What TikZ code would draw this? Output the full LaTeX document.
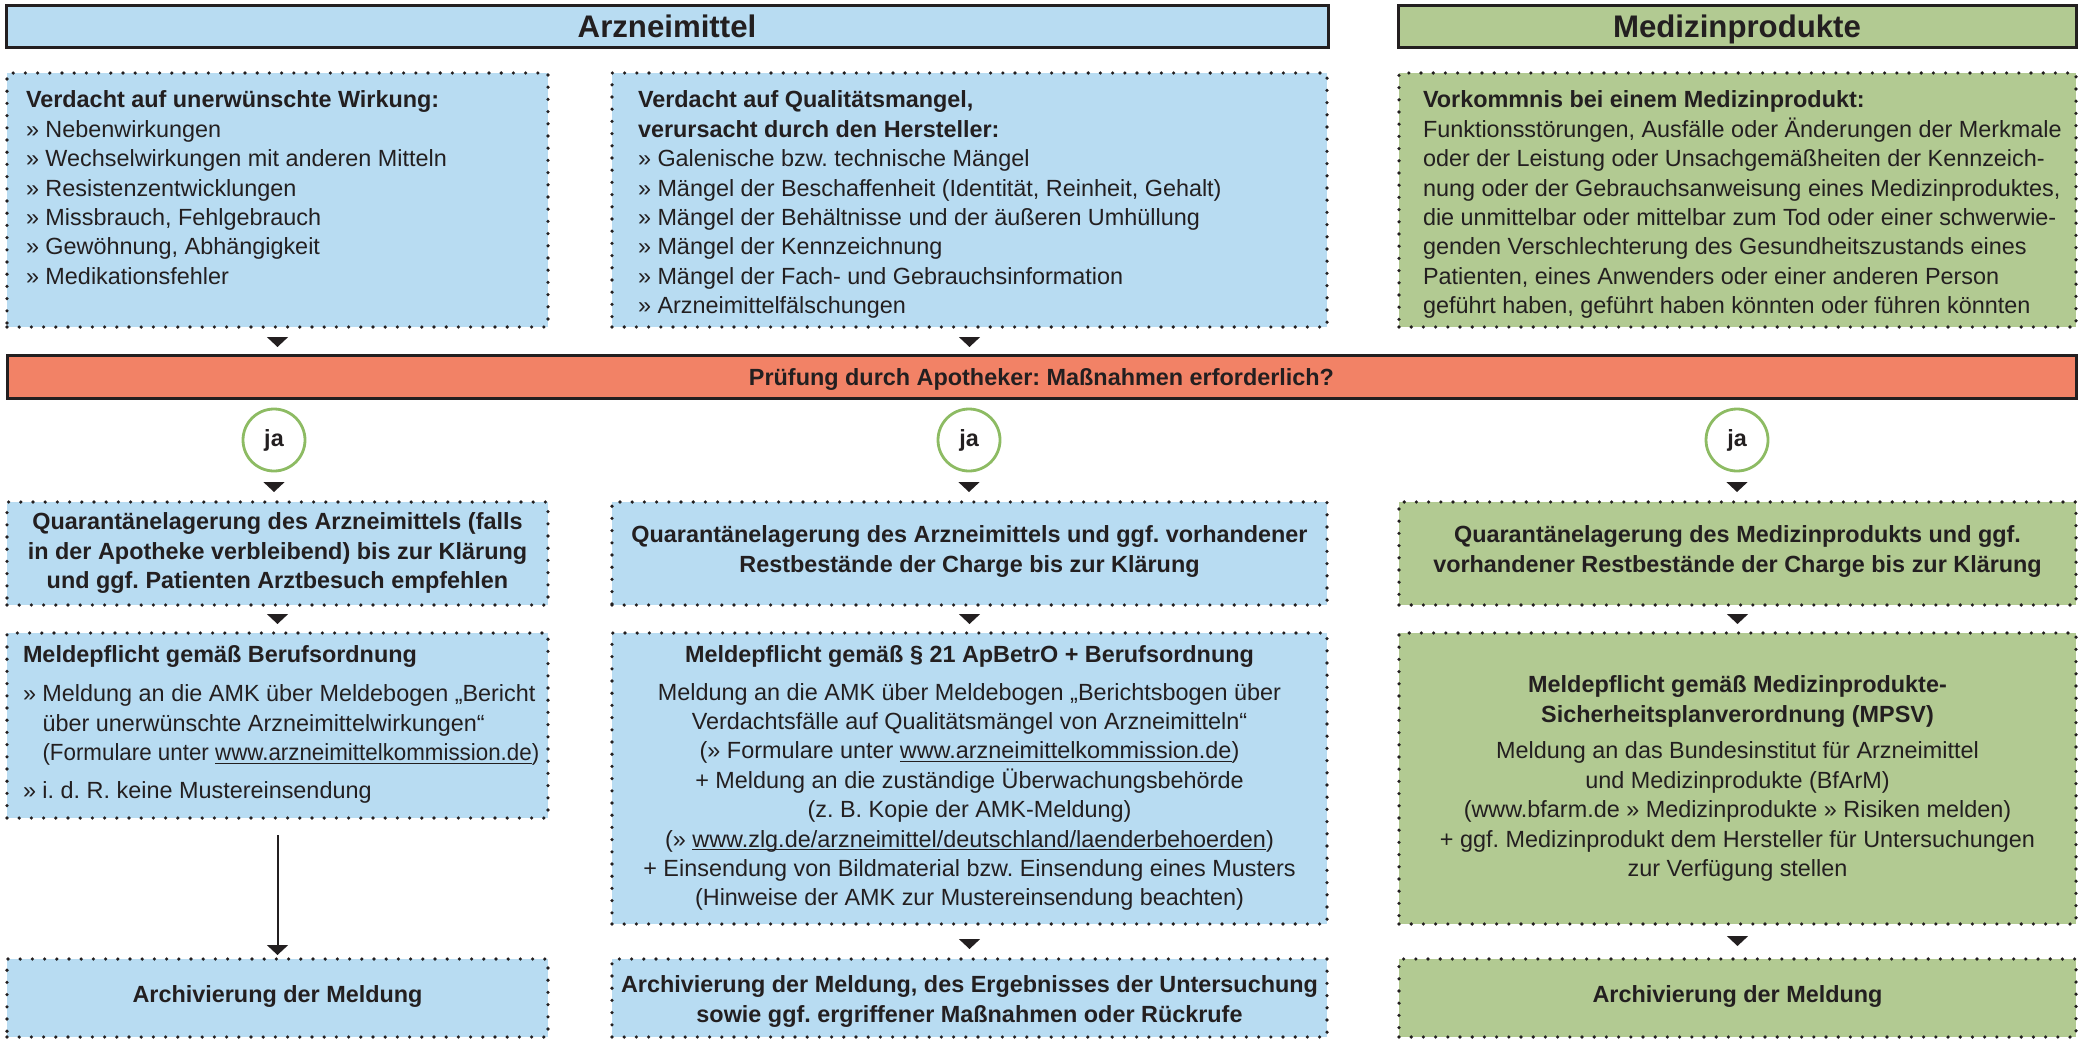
\documentclass[tikz,border=0pt]{standalone}
\usepackage{fontspec}
\usepackage{graphicx}
\setmainfont{Liberation Sans}
\usetikzlibrary{arrows.meta,fit}
\definecolor{ink}{HTML}{231F20}
\definecolor{amblue}{HTML}{B8DCF2}
\definecolor{mpgreen}{HTML}{B2CA92}
\definecolor{pruef}{HTML}{F28266}
\definecolor{jagreen}{HTML}{8DBB63}
\newcommand\myul[1]{\setbox0=\hbox{#1}\rlap{\rule[-1.6pt]{\wd0}{0.6pt}}\box0}
\newcommand\bodyfs{\fontsize{11.7pt}{14.7pt}\selectfont\frenchspacing}
\tikzset{
  hdr/.style={draw=ink, line width=1.5pt, inner sep=0pt, outer sep=0pt},
  dotbox/.style={draw=ink, line width=1.8pt, dash pattern=on 0pt off 6.1pt, line cap=round, inner sep=0pt, outer sep=0pt},
  ambox/.style={dotbox, fill=amblue},
  mpbox/.style={dotbox, fill=mpgreen},
  htxt/.style={inner sep=0pt, outer sep=0pt, text=ink, anchor=north, font=\fontsize{15.6pt}{18pt}\selectfont\bfseries},
  ctxt/.style={inner sep=0pt, outer sep=0pt, text=ink, align=center, anchor=north, font=\bodyfs},
  ltxt/.style={inner sep=0pt, outer sep=0pt, text=ink, align=left, anchor=north west, font=\bodyfs},
  jacirc/.style={circle, draw=jagreen, line width=1.4pt, fill=white, minimum size=31pt, inner sep=0pt, outer sep=0pt, text=ink, font=\fontsize{11.7pt}{14pt}\selectfont\bfseries},
  tri/.style={draw=ink, line width=0.8pt, -{Triangle[width=10.5pt,length=5pt]}},
  longarr/.style={draw=ink, line width=1pt, -{Triangle[width=10.5pt,length=5pt]}},
}
\begin{document}
\begin{tikzpicture}[x=0.5pt,y=-0.5pt]
\useasboundingbox (0,0) rectangle (2086,1039);
% headers
\node[hdr, fill=amblue, fit={(6,5) (1328,47)}] (h1) {};
\node[hdr, fill=mpgreen, fit={(1398,5) (2076,47)}] (h2) {};
\node[htxt] (h1t) at ([yshift=-5pt]h1.north) {Arzneimittel};
\node[htxt] (h2t) at ([yshift=-5pt]h2.north) {Medizinprodukte};
% row 1
\node[ambox, fit={(7,73) (548,327)}] (v1) {};
\node[ambox, fit={(612,73) (1327,327)}] (v2) {};
\node[mpbox, fit={(1399,73) (2076,327)}] (v3) {};
\node[ltxt] (t1) at (26,91) {\textbf{Verdacht auf unerwünschte Wirkung:}\\
» Nebenwirkungen\\
» Wechselwirkungen mit anderen Mitteln\\
» Resistenzentwicklungen\\
» Missbrauch, Fehlgebrauch\\
» Gewöhnung, Abhängigkeit\\
» Medikationsfehler};
\node[ltxt] (t2) at (638,91) {\textbf{Verdacht auf Qualitätsmangel,}\\
\textbf{verursacht durch den Hersteller:}\\
» Galenische bzw. technische Mängel\\
» Mängel der Beschaffenheit (Identität, Reinheit, Gehalt)\\
» Mängel der Behältnisse und der äußeren Umhüllung\\
» Mängel der Kennzeichnung\\
» Mängel der Fach- und Gebrauchsinformation\\
» Arzneimittelfälschungen};
\node[ltxt] (t3) at (1423,91) {\textbf{Vorkommnis bei einem Medizinprodukt:}\\
Funktionsstörungen, Ausfälle oder Änderungen der Merkmale\\
oder der Leistung oder Unsachgemäßheiten der Kennzeich-\\
nung oder der Gebrauchsanweisung eines Medizinproduktes,\\
die unmittelbar oder mittelbar zum Tod oder einer schwerwie-\\
genden Verschlechterung des Gesundheitszustands eines\\
Patienten, eines Anwenders oder einer anderen Person\\
geführt haben, geführt haben könnten oder führen könnten};
% decision bar
\node[hdr, fill=pruef, fit={(7,355) (2076,398)}] (pr) {};
\node[ctxt] (prt) at ([yshift=-7pt]pr.north) {\textbf{Prüfung durch Apotheker: Maßnahmen erforderlich?}};
% ja circles
\node[jacirc] (ja1) at (274,440) {ja};
\node[jacirc] (ja2) at (969,440) {ja};
\node[jacirc] (ja3) at (1737,440) {ja};
% row 2
\node[ambox, fit={(7,502) (548,605)}] (q1) {};
\node[ambox, fit={(612,502) (1327,605)}] (q2) {};
\node[mpbox, fit={(1399,502) (2076,605)}] (q3) {};
\node[ctxt] (q1t) at ([yshift=-5.5pt]q1.north) {\textbf{Quarantänelagerung des Arzneimittels (falls}\\ \textbf{in der Apotheke verbleibend) bis zur Klärung}\\ \textbf{und ggf. Patienten Arztbesuch empfehlen}};
\node[ctxt] (q2t) at ([yshift=-12pt]q2.north) {\textbf{Quarantänelagerung des Arzneimittels und ggf. vorhandener}\\ \textbf{Restbestände der Charge bis zur Klärung}};
\node[ctxt] (q3t) at ([yshift=-12pt]q3.north) {\textbf{Quarantänelagerung des Medizinprodukts und ggf.}\\ \textbf{vorhandener Restbestände der Charge bis zur Klärung}};
% row 3
\node[ambox, fit={(7,633) (548,818)}] (m1) {};
\node[ambox, fit={(612,633) (1327,924)}] (m2) {};
\node[mpbox, fit={(1399,633) (2076,924)}] (m3) {};
\node[ltxt] (m1t) at (23,646) {\textbf{Meldepflicht gemäß Berufsordnung}\\[4.8pt]
» Meldung an die AMK über Meldebogen „Bericht\\
\phantom{»\ }über unerwünschte Arzneimittelwirkungen“\\
\phantom{»\ }\scalebox{0.955}[1]{(Formulare unter \myul{www.arzneimittelkommission.de})}\\[4.3pt]
» i. d. R. keine Mustereinsendung};
\node[ctxt] (m2t) at ([yshift=-6.5pt]m2.north) {\textbf{Meldepflicht gemäß § 21 ApBetrO + Berufsordnung}\\[3.9pt]
Meldung an die AMK über Meldebogen „Berichtsbogen über\\
Verdachtsfälle auf Qualitätsmängel von Arzneimitteln“\\
(» Formulare unter \myul{www.arzneimittelkommission.de} )\\
+ Meldung an die zuständige Überwachungsbehörde\\
(z. B. Kopie der AMK-Meldung)\\
(» \myul{www.zlg.de/arzneimittel/deutschland/laenderbehoerden})\\
+ Einsendung von Bildmaterial bzw. Einsendung eines Musters\\
(Hinweise der AMK zur Mustereinsendung beachten)};
\node[ctxt] (m3t) at ([yshift=-21.5pt]m3.north) {\textbf{Meldepflicht gemäß Medizinprodukte-}\\
\textbf{Sicherheitsplanverordnung (MPSV)}\\[3.6pt]
Meldung an das Bundesinstitut für Arzneimittel\\
und Medizinprodukte (BfArM)\\
(www.bfarm.de » Medizinprodukte » Risiken melden)\\
+ ggf. Medizinprodukt dem Hersteller für Untersuchungen\\
zur Verfügung stellen};
% row 4
\node[ambox, fit={(7,959) (548,1037)}] (a1) {};
\node[ambox, fit={(612,959) (1327,1037)}] (a2) {};
\node[mpbox, fit={(1399,959) (2076,1037)}] (a3) {};
\node[ctxt] (a1t) at ([yshift=-13.5pt]a1.north) {\textbf{Archivierung der Meldung}};
\node[ctxt] (a2t) at ([yshift=-8.5pt]a2.north) {\textbf{Archivierung der Meldung, des Ergebnisses der Untersuchung}\\ \textbf{sowie ggf. ergriffener Maßnahmen oder Rückrufe}};
\node[ctxt] (a3t) at ([yshift=-13.5pt]a3.north) {\textbf{Archivierung der Meldung}};
% connectors
\draw[tri, shorten <=5pt, shorten >=4pt] (v1.south) -- (v1.south |- pr.north);
\draw[tri, shorten <=5pt, shorten >=4pt] (v2.south) -- (v2.south |- pr.north);
\draw[tri, shorten <=5.5pt, shorten >=5pt] (ja1.south) -- (ja1.south |- q1.north);
\draw[tri, shorten <=5.5pt, shorten >=5pt] (ja2.south) -- (ja2.south |- q2.north);
\draw[tri, shorten <=5.5pt, shorten >=5pt] (ja3.south) -- (ja3.south |- q3.north);
\draw[tri, shorten <=4.5pt, shorten >=4.5pt] (q1.south) -- (m1.north);
\draw[tri, shorten <=4.5pt, shorten >=4.5pt] (q2.south) -- (m2.north);
\draw[tri, shorten <=4.5pt, shorten >=4.5pt] (q3.south) -- (m3.north);
\draw[longarr, shorten <=8.5pt, shorten >=2pt] (m1.south) -- (a1.north);
\draw[tri, shorten <=7.5pt, shorten >=5pt] (m2.south) -- (a2.north);
\draw[tri, shorten <=6pt, shorten >=6.5pt] (m3.south) -- (a3.north);
\end{tikzpicture}
\end{document}
